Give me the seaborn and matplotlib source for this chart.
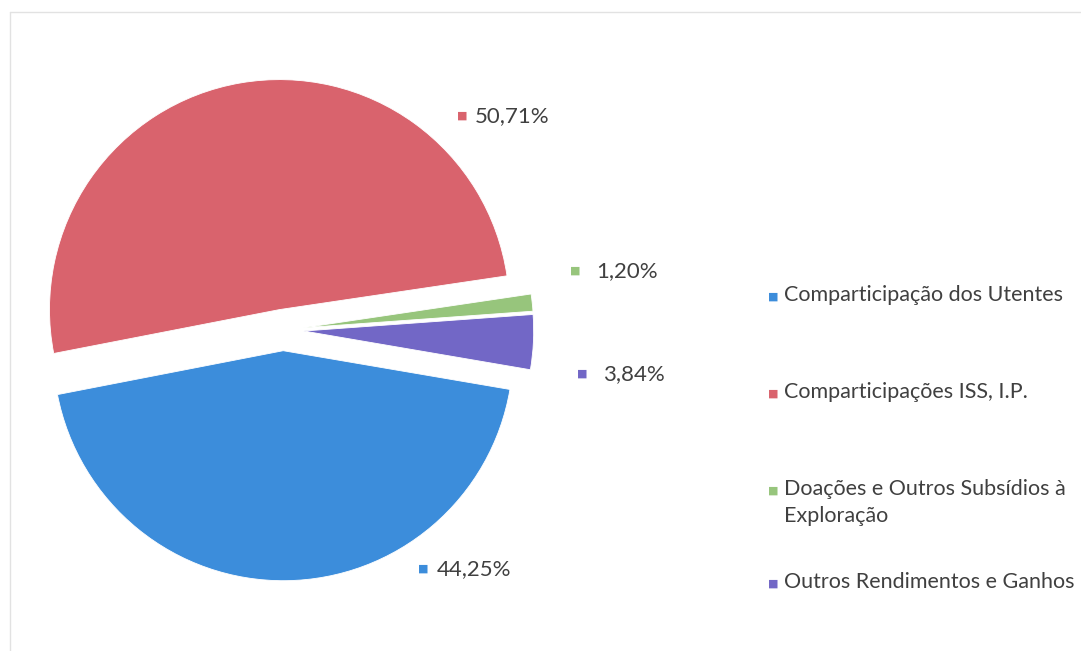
import matplotlib
matplotlib.use('Agg')
import matplotlib.pyplot as plt
import seaborn as sns
from matplotlib.lines import Line2D

# Data
categories = ['Comparticipação dos Utentes', 'Comparticipações ISS, I.P.',
              'Doações e Outros Subsídios à\nExploração', 'Outros Rendimentos e Ganhos']
shares = [44.25, 50.71, 1.20, 3.84]
pct_labels = ['44,25%', '50,71%', '1,20%', '3,84%']
colors = ['#3c8ddb', '#d9636d', '#97c57c', '#7267c6']

sns.set_theme(style='white')
plt.rcParams['font.family'] = ['Lato', 'DejaVu Sans']

W, H = 1081, 651
fig = plt.figure(figsize=(W / 100, H / 100), dpi=100)
fig.patch.set_facecolor('white')

# pie centred at about (283, 330) px, radius ~230 px
cx, cy, R = 283, 330, 230
ax = fig.add_axes([0, (H - cy - 300) / H, 2 * cx / W, 600 / H])
wedges, _ = ax.pie(shares, colors=colors, startangle=-9.7, counterclock=False,
                   explode=[0.09] * 4, radius=1,
                   wedgeprops=dict(linewidth=0.6, edgecolor='white'))
ax.set_aspect('auto')
ax.set_xlim(-cx / R, cx / R)
ax.set_ylim(-300 / R, 300 / R)
ax.axis('off')

# data labels (pixel positions of the square marker)
label_pos = [(423, 568), (462, 115), (575, 270), (582, 373)]
text_gap = [14, 13, 21, 21]
for (px, py), lab, col, gap in zip(label_pos, pct_labels, colors, text_gap):
    fig.text(px / W, 1 - py / H, '■', color=col, fontsize=8, ha='center', va='center')
    fig.text((px + gap) / W, 1 - (py + 1) / H, lab, color='#404040', fontsize=16,
             ha='left', va='center')

# legend entries, drawn by hand so the wrapped item sits like the original
legend_y = [296, 393, 490, 583]
for y, lab, col in zip(legend_y, categories, colors):
    fig.text(773 / W, 1 - y / H, '■', color=col, fontsize=8, ha='center', va='center')
    fig.text(784 / W, 1 - (y - 11) / H, lab, color='#404040', fontsize=15.5,
             ha='left', va='top', linespacing=1.45)

# faint scan frame lines
fig.add_artist(Line2D([10 / W, 1], [1 - 12 / H, 1 - 12 / H], color='#e2e2e2', lw=1))
fig.add_artist(Line2D([10 / W, 10 / W], [0, 1 - 12 / H], color='#e2e2e2', lw=1))

fig.savefig('out.png', dpi=100, facecolor='white')
